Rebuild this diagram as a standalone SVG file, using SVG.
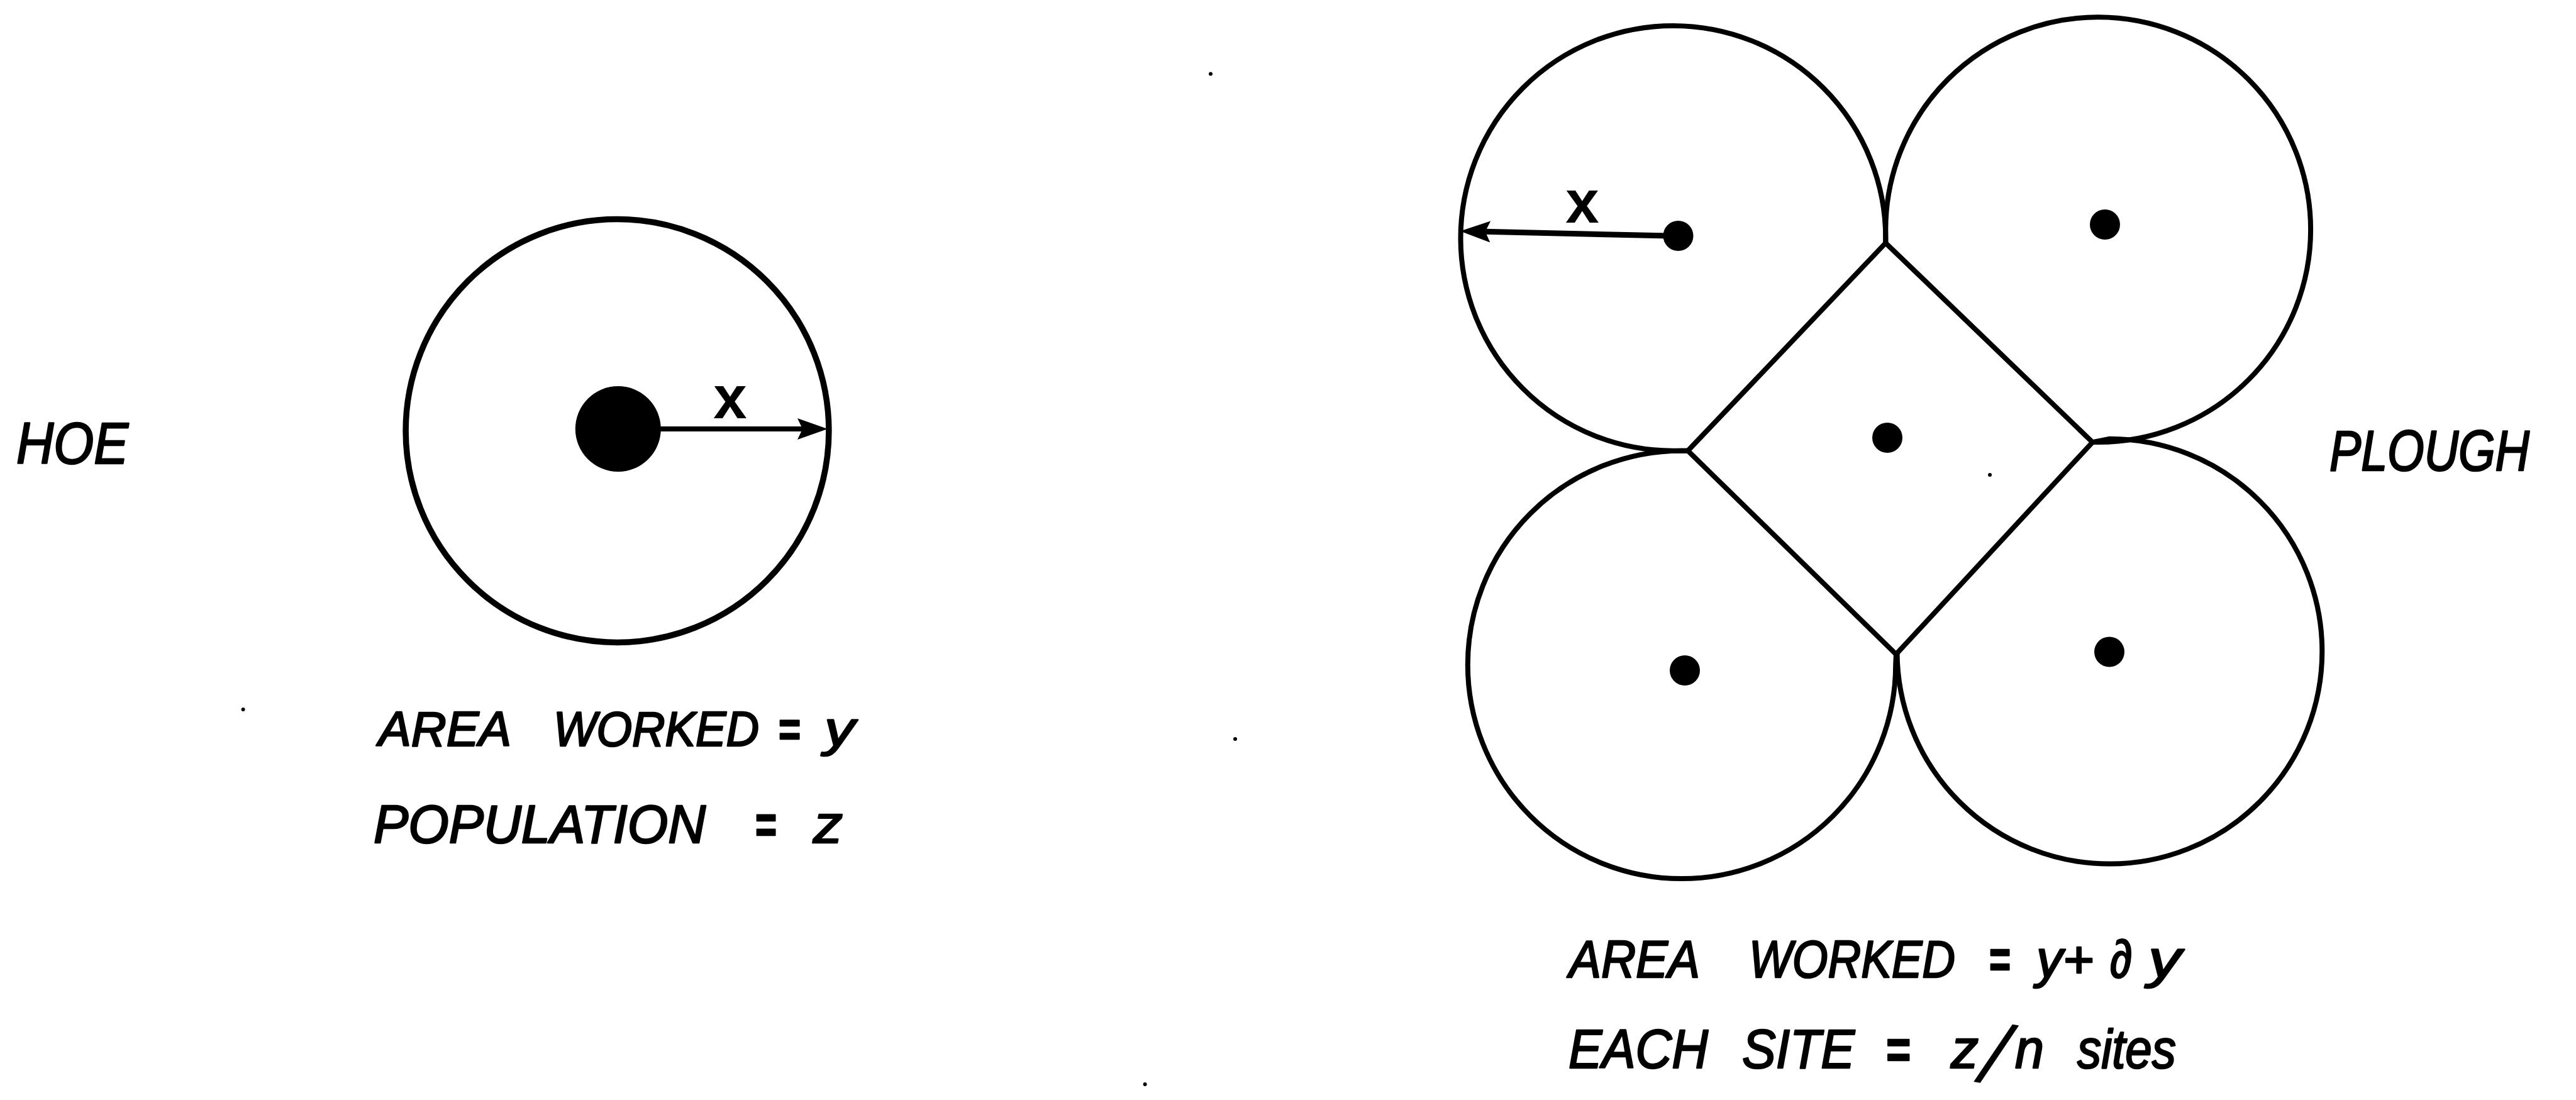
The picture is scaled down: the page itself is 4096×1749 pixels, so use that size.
<svg xmlns="http://www.w3.org/2000/svg" width="4096" height="1749" viewBox="0 0 4096 1749">
<style>
.bg{fill:#fff}
.ring{fill:none;stroke:#000;stroke-width:9.5}
.edge{fill:none;stroke:#000;stroke-width:8;stroke-linejoin:miter}
.dot{fill:#000}
.arrow{stroke:#000;fill:none}
.lbl{font-family:"Liberation Sans",Arial,sans-serif;font-style:italic;fill:#000;stroke:#000;stroke-width:2.6;stroke-linejoin:round}
.eq{font-weight:bold}
.var{font-family:"Liberation Sans",Arial,sans-serif;font-weight:bold;fill:#000;text-anchor:middle}
.speck{fill:#000}
</style>
<defs>
<marker id="head" viewBox="0 0 48 34" markerWidth="48" markerHeight="34" refX="18" refY="17" orient="auto" markerUnits="userSpaceOnUse">
<path d="M0,0 L48,17 L0,34 L8,17 z" fill="#000"/>
</marker>
</defs>
<rect class="bg" x="0" y="0" width="4096" height="1749"/>

<g id="hoe-site">
<circle class="ring" cx="981.5" cy="685" r="336.4"/>
<circle class="dot" cx="982.8" cy="682" r="68"/>
</g>

<g id="plough-sites">
<g id="site-tl">
<path class="edge" d="M2998.3,386.3 L2998.3,378.8 A337.9,337.9 0 1 0 2660.4,716.7 L2683.8,716.7"/>
<circle class="dot" cx="2668.5" cy="375" r="24"/>
</g>
<g id="site-tr">
<path class="edge" d="M2998.3,386.3 L2998.3,365.1 A337.9,337.9 0 1 1 3336.2,703 L3327.2,703.1"/>
<circle class="dot" cx="3347" cy="357" r="24"/>
</g>
<g id="site-br">
<path class="edge" d="M3327.2,703.1 L3354.4,697.8 A337.9,337.9 0 1 1 3016.5,1035.7 L3014.9,1040.3"/>
<circle class="dot" cx="3354" cy="1036.5" r="24"/>
</g>
<g id="site-bl">
<path class="edge" d="M3014.9,1040.3 L3014.2,1056.9 A340.2,340.2 0 1 1 2674,716.7 L2683.8,716.7"/>
<circle class="dot" cx="2679" cy="1066" r="24"/>
</g>
<g id="site-centre">
<polygon class="edge" points="2998.3,386.3 3327.2,703.1 3014.9,1040.3 2683.8,716.7"/>
<circle class="dot" cx="3001" cy="696" r="24"/>
</g>
</g>

<g id="connectors">
<line class="arrow" x1="1040" y1="682" x2="1286" y2="682" stroke-width="8" marker-end="url(#head)"/>
<line class="arrow" x1="2655" y1="375" x2="2351.7" y2="368.1" stroke-width="9" marker-end="url(#head)"/>
</g>

<g id="labels">
<text class="var" x="1161" y="665" font-size="96">x</text>
<text class="var" x="2516" y="354" font-size="96">x</text>

<text class="lbl" x="26" y="737" font-size="93" textLength="178" lengthAdjust="spacingAndGlyphs" stroke-width="3.5">HOE</text>
<text class="lbl" x="3704" y="748" font-size="90" textLength="318" lengthAdjust="spacingAndGlyphs" stroke-width="3">PLOUGH</text>

<text class="lbl" y="1186" font-size="78"><tspan x="602" textLength="211" lengthAdjust="spacingAndGlyphs">AREA</tspan><tspan x="880" textLength="327" lengthAdjust="spacingAndGlyphs">WORKED</tspan><tspan class="eq" x="1237" textLength="35" lengthAdjust="spacingAndGlyphs">=</tspan><tspan x="1311" textLength="48" lengthAdjust="spacingAndGlyphs">y</tspan></text>
<text class="lbl" y="1339.5" font-size="85"><tspan x="594" textLength="528" lengthAdjust="spacingAndGlyphs">POPULATION</tspan><tspan class="eq" x="1200" textLength="34" lengthAdjust="spacingAndGlyphs">=</tspan><tspan x="1293" textLength="47" lengthAdjust="spacingAndGlyphs">z</tspan></text>

<text class="lbl" y="1554" font-size="84"><tspan x="2495" textLength="208" lengthAdjust="spacingAndGlyphs">AREA</tspan><tspan x="2781" textLength="328" lengthAdjust="spacingAndGlyphs">WORKED</tspan><tspan class="eq" x="3162" textLength="34" lengthAdjust="spacingAndGlyphs">=</tspan><tspan x="3238" textLength="91" lengthAdjust="spacingAndGlyphs">y+</tspan><tspan x="3355" textLength="35" lengthAdjust="spacingAndGlyphs">∂</tspan><tspan x="3416" textLength="52" lengthAdjust="spacingAndGlyphs">y</tspan></text>
<text class="lbl" y="1698" font-size="88"><tspan x="2494" textLength="222" lengthAdjust="spacingAndGlyphs">EACH</tspan><tspan x="2770" textLength="179" lengthAdjust="spacingAndGlyphs">SITE</tspan><tspan class="eq" x="2998" textLength="39" lengthAdjust="spacingAndGlyphs">=</tspan><tspan x="3102" textLength="44" lengthAdjust="spacingAndGlyphs">z</tspan><tspan x="3146" y="1720" font-size="136" rotate="9" stroke-width="0">/</tspan><tspan x="3204" y="1698" textLength="46" lengthAdjust="spacingAndGlyphs">n</tspan><tspan x="3303" textLength="157" lengthAdjust="spacingAndGlyphs">sites</tspan></text>
</g>

<g id="specks">
<circle class="speck" cx="1925" cy="117.5" r="3"/>
<circle class="speck" cx="386.6" cy="1128" r="3"/>
<circle class="speck" cx="1964" cy="1175" r="3"/>
<circle class="speck" cx="1820.6" cy="1724" r="3"/>
<circle class="speck" cx="3164" cy="755" r="3"/>
</g>
</svg>
